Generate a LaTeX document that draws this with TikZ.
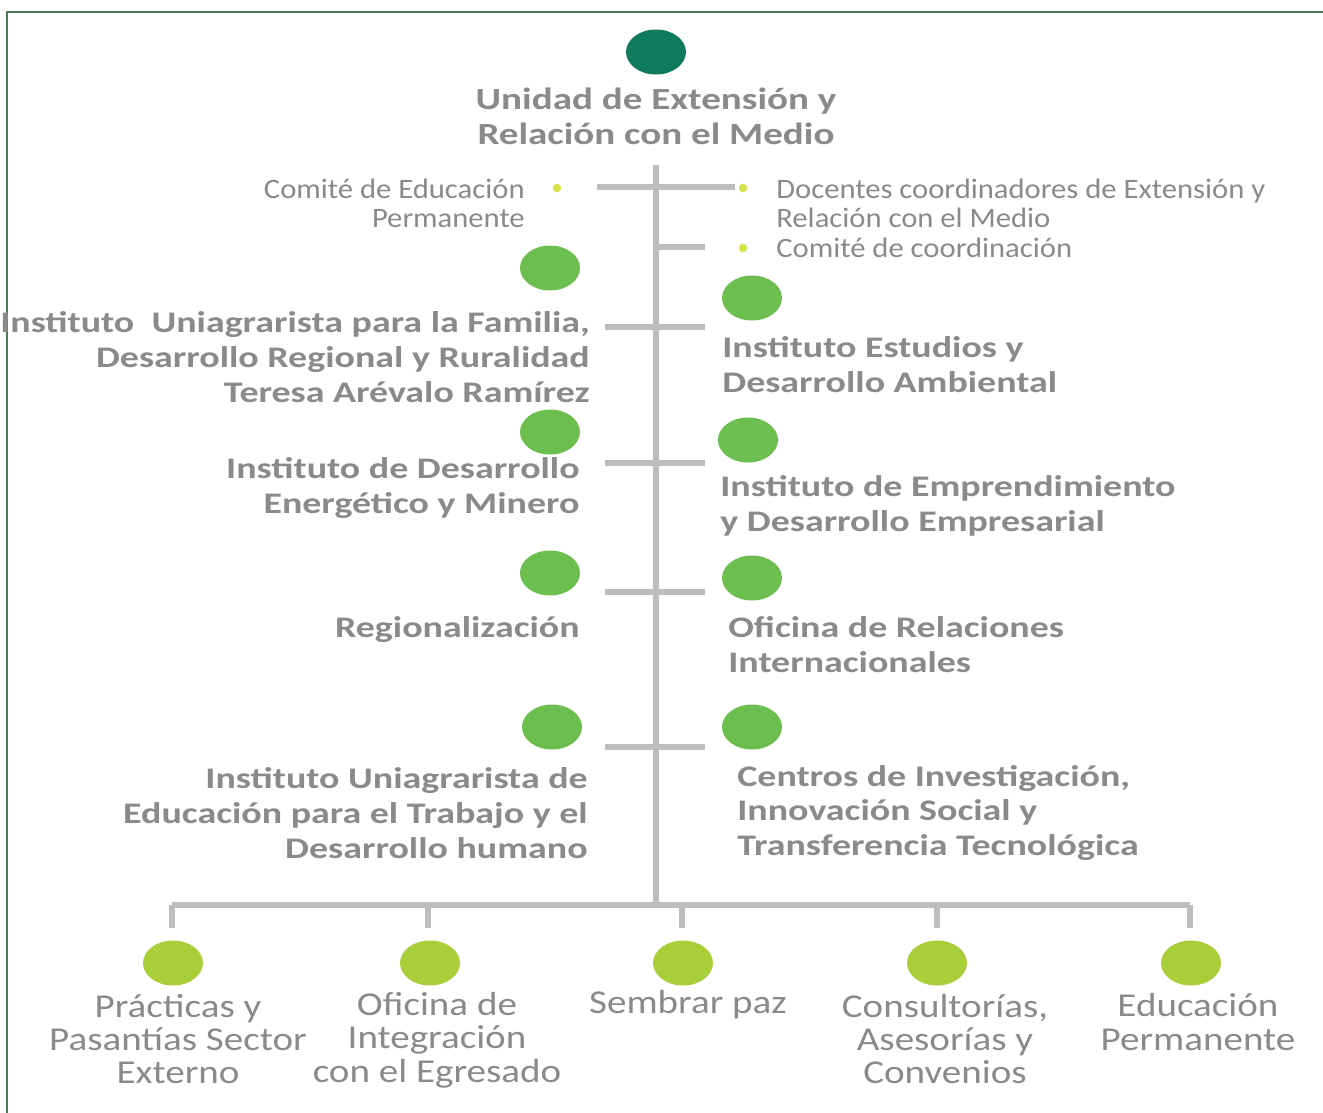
\documentclass[tikz,border=0pt]{standalone}
\usepackage{fontspec}
\setmainfont{Carlito}
\newfontfamily\lblfont{Carlito}[FakeStretch=1.27]
\newfontfamily\botfont{Carlito}[FakeStretch=1.17]
\newfontfamily\smlfont{Carlito}[FakeStretch=1.09]
\usetikzlibrary{shapes.geometric}
\definecolor{txtgray}{HTML}{8A8A8A}
\definecolor{linegray}{HTML}{BDBDBD}
\definecolor{topgreen}{HTML}{11795C}
\definecolor{midgreen}{HTML}{6CBE4E}
\definecolor{lime}{HTML}{A9CE3A}
\definecolor{dotyellow}{HTML}{D5E24A}
\definecolor{framegreen}{HTML}{4F7A4F}
\tikzset{
  blob/.style={ellipse, inner sep=0pt, minimum width=1.2cm, minimum height=0.9cm, draw=none},
  dotb/.style={circle, fill=dotyellow, inner sep=0pt, minimum size=0.17cm},
  conn/.style={draw=linegray, line width=3pt},
  biglbl/.style={text=txtgray, inner sep=0pt, font=\lblfont\bfseries\fontsize{17}{19.9}\selectfont},
  titlelbl/.style={text=txtgray, inner sep=0pt, align=center, font=\lblfont\bfseries\fontsize{17.5}{19.9}\selectfont},
  smalllbl/.style={text=txtgray, inner sep=0pt, font=\smlfont\fontsize{16}{16.5}\selectfont},
  botlbl/.style={text=txtgray, inner sep=0pt, align=center, font=\botfont\fontsize{19}{19}\selectfont},
}
\begin{document}
\begin{tikzpicture}[x=0.02cm,y=-0.02cm]
\useasboundingbox (0,0) rectangle (1323,1113);
\fill[white] (0,0) rectangle (1323,1113);
% frame
\coordinate (fa) at (7,1113);
\coordinate (fb) at (7,12);
\coordinate (fc) at (1323,12);
\draw[framegreen, line width=1.2pt] (fa) -- (fb) -- (fc);

% top
\node[blob, fill=topgreen] (top) at (656,52) {};
\node[titlelbl] (title) at (656,116) {Unidad de Extensión y\\Relación con el Medio};

% trunk and bars
\coordinate (trtop) at (656,165);
\coordinate (trbot) at (656,905);
\coordinate (barL) at (172,905);
\coordinate (barR) at (1190,905);
\draw[conn] (trtop) -- (trbot);
\draw[conn] (barL) -- (barR);

% top small branch
\coordinate (s1l) at (597,187);
\coordinate (s1r) at (735,187);
\coordinate (s2l) at (656,247);
\coordinate (s2r) at (705,247);
\draw[conn] (s1l) -- (s1r);
\draw[conn] (s2l) -- (s2r);
\node[dotb] (d1) at (557,188) {};
\node[dotb] (d2) at (743,188) {};
\node[dotb] (d3) at (743,248) {};
\node[smalllbl, anchor=east, align=right] (cep) at (525,203) {Comité de Educación\\Permanente};
\node[smalllbl, anchor=west, align=left] (doc) at (776,203) {Docentes coordinadores de Extensión y\\Relación con el Medio};
\node[smalllbl, anchor=west] (cco) at (776,248) {Comité de coordinación};

% institute rows
\foreach \n/\y in {1/327, 2/463, 3/592, 4/747} {
  \coordinate (h\n l) at (605,\y);
  \coordinate (h\n r) at (705,\y);
  \draw[conn] (h\n l) -- (h\n r);
}
\node[blob, fill=midgreen] (l1) at (550,268) {};
\node[blob, fill=midgreen] (r1) at (752,298) {};
\node[blob, fill=midgreen] (l2) at (550,432) {};
\node[blob, fill=midgreen] (r2) at (748,440) {};
\node[blob, fill=midgreen] (l3) at (550,573) {};
\node[blob, fill=midgreen] (r3) at (752,578) {};
\node[blob, fill=midgreen] (l4) at (552,727) {};
\node[blob, fill=midgreen] (r4) at (752,727) {};

\node[biglbl, anchor=east, align=right] (tl1) at (590,357) {Instituto\ \ Uniagrarista para la Familia,\\Desarrollo Regional y Ruralidad\\Teresa Arévalo Ramírez};
\node[biglbl, anchor=west, align=left] (tr1) at (722,365) {Instituto Estudios y\\Desarrollo Ambiental};
\node[biglbl, anchor=east, align=right] (tl2) at (580,488) {Instituto de Desarrollo\\Energético y Minero};
\node[biglbl, anchor=west, align=left] (tr2) at (720,506) {Instituto de Emprendimiento\\y Desarrollo Empresarial};
\node[biglbl, anchor=east] (tl3) at (580,630) {Regionalización};
\node[biglbl, anchor=west, align=left] (tr3) at (728,645) {Oficina de Relaciones\\Internacionales};
\node[biglbl, anchor=east, align=right] (tl4) at (588,813) {Instituto Uniagrarista de\\Educación para el Trabajo y el\\Desarrollo humano};
\node[biglbl, anchor=west, align=left] (tr4) at (737,813) {Centros de Investigación,\\Innovación Social y\\Transferencia Tecnológica};

% bottom row
\foreach \n/\x/\cx in {1/172/173, 2/428/430, 3/682/683, 4/937/937, 5/1190/1191} {
  \coordinate (b\n top) at (\x,905);
  \coordinate (b\n end) at (\x,928);
  \draw[conn] (b\n top) -- (b\n end);
  \node[blob, fill=lime] (b\n) at (\cx,963) {};
}
\node[botlbl] (bl1) at (178,1039) {Prácticas y\\Pasantías Sector\\Externo};
\node[botlbl] (bl2) at (437,1040) {Oficina de\\Integración\\con el Egresado};
\node[botlbl] (bl3) at (688,1005) {Sembrar paz};
\node[botlbl] (bl4) at (945,1039) {Consultorías,\\Asesorías y\\Convenios};
\node[botlbl] (bl5) at (1198,1022) {Educación\\Permanente};
\end{tikzpicture}
\end{document}
